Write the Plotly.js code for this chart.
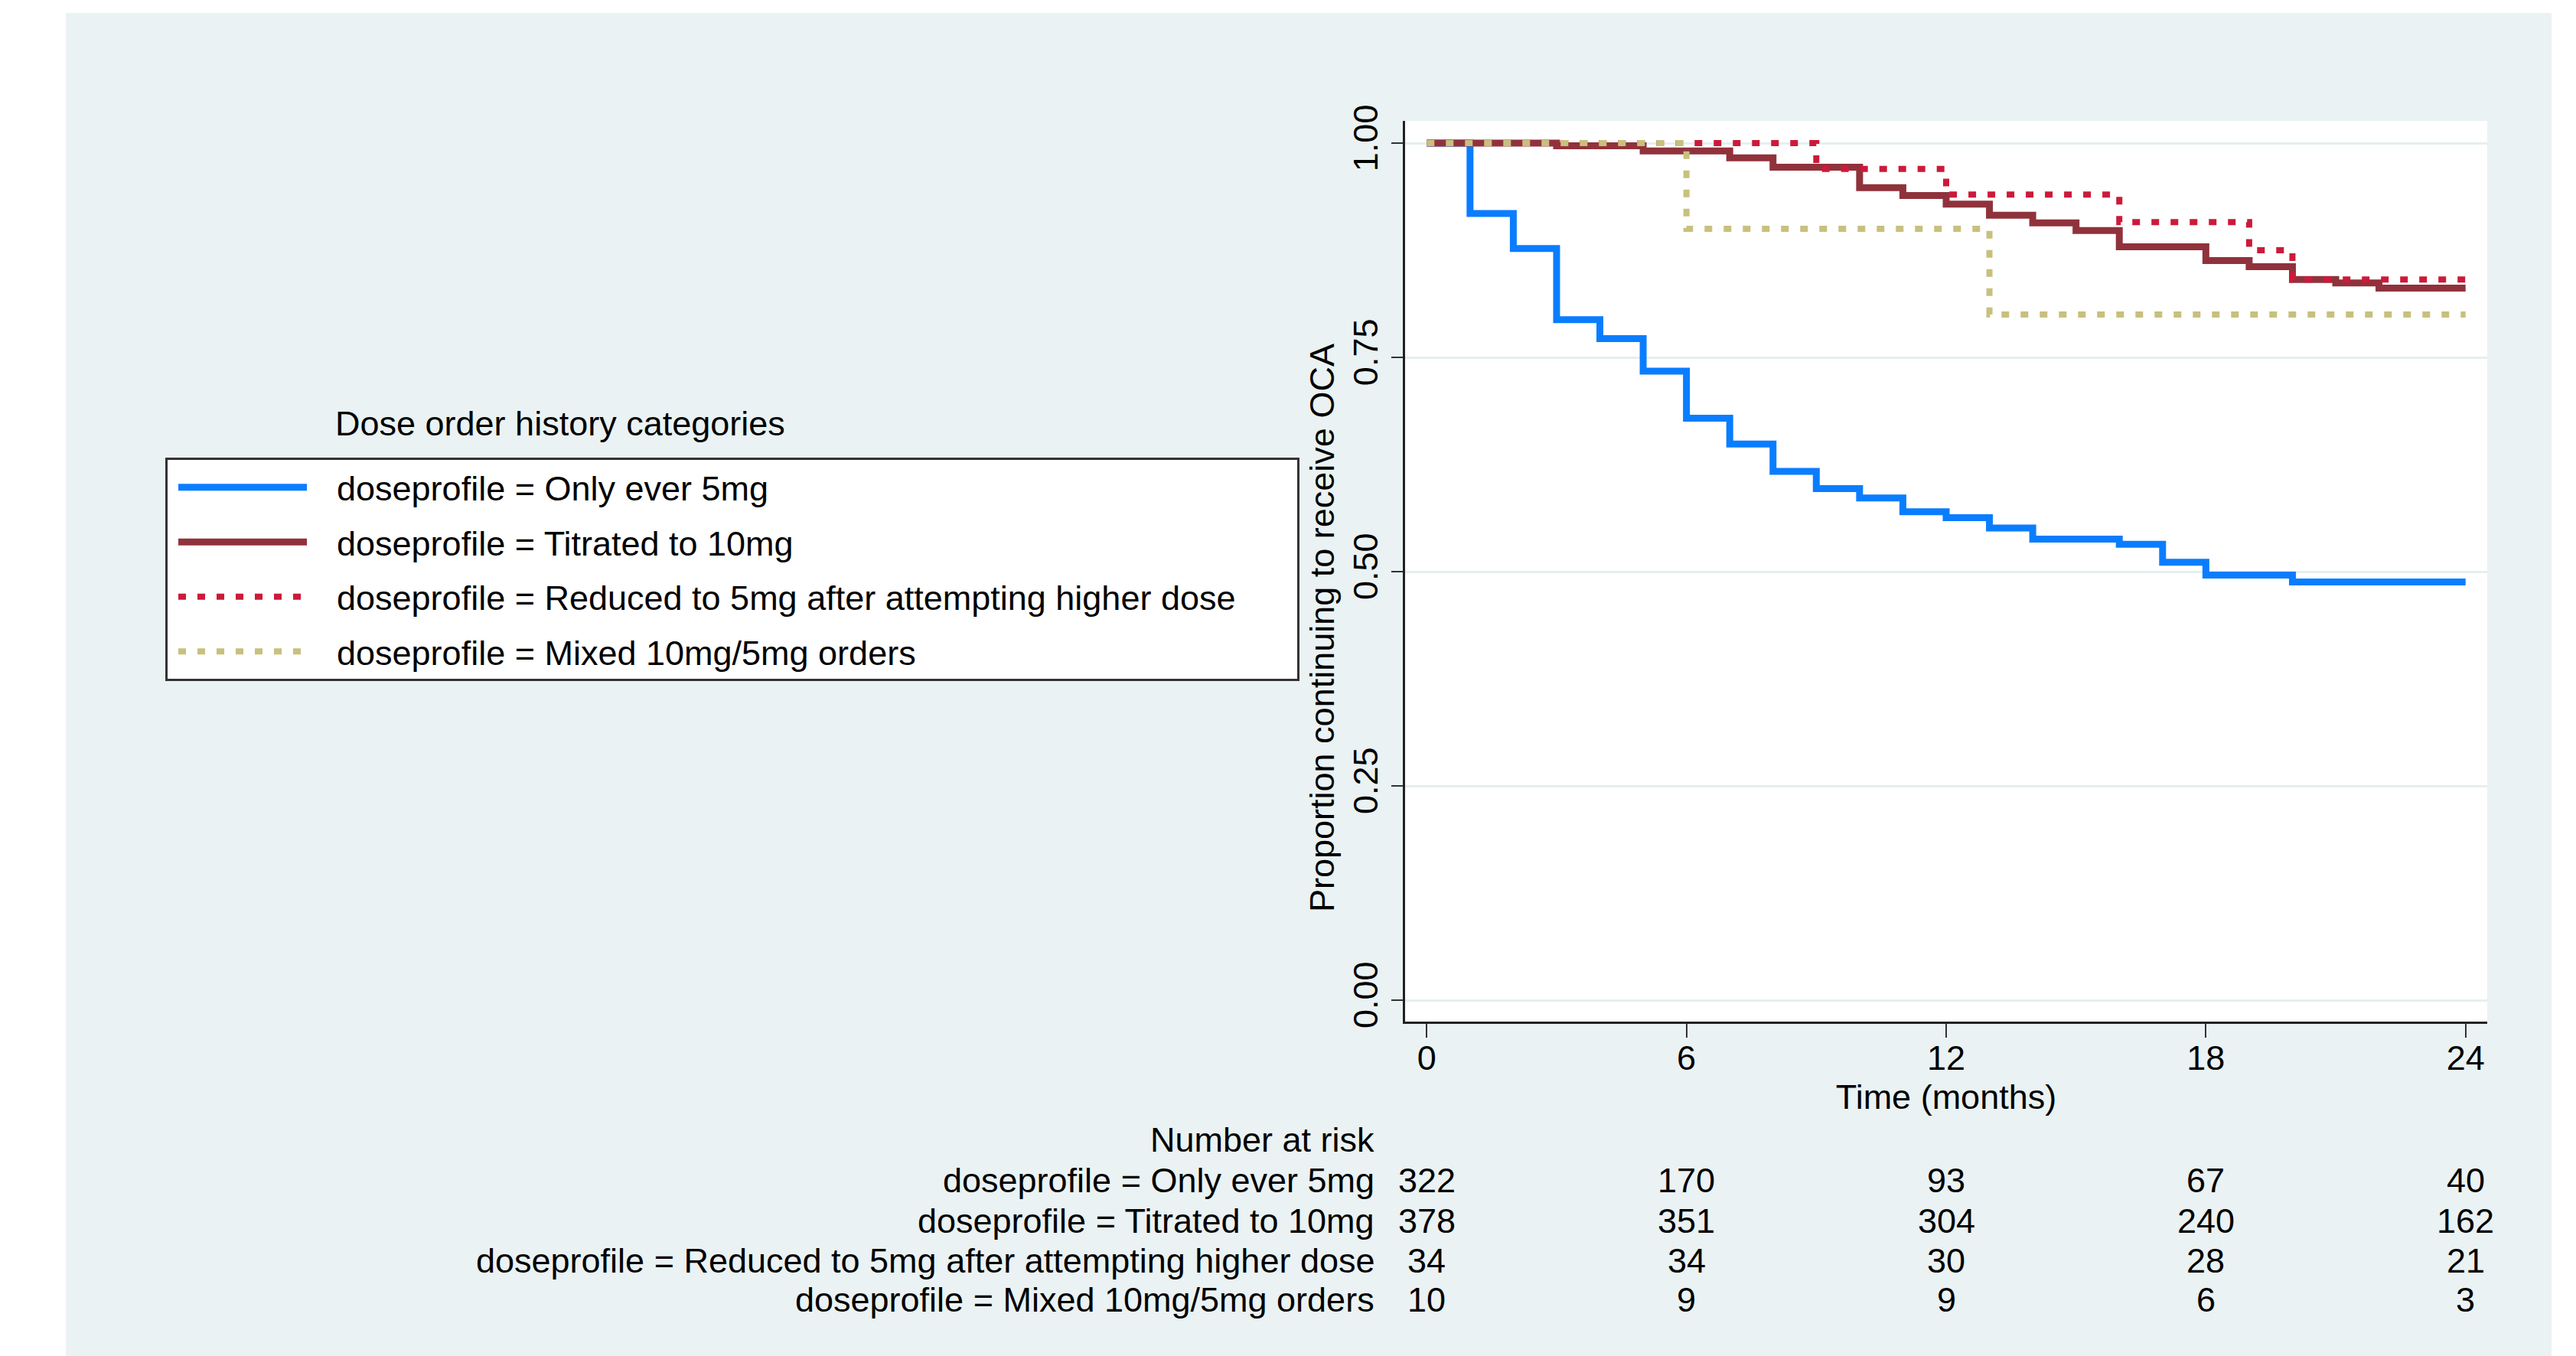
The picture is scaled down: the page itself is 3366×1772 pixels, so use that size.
<!DOCTYPE html>
<html>
<head>
<meta charset="utf-8">
<script src="https://cdn.plot.ly/plotly-3.0.1.min.js"></script>
<style>
  html, body { margin: 0; padding: 0; background: #ffffff; }
  #chart { position: absolute; left: 86px; top: 17px; width: 3248px; height: 1755px; }
</style>
</head>
<body>
<div id="chart"></div>
<script>
// ---- Data (Kaplan-Meier step curves) ----
const seriesNames = [
  "doseprofile = Only ever 5mg",
  "doseprofile = Titrated to 10mg",
  "doseprofile = Reduced to 5mg after attempting higher dose",
  "doseprofile = Mixed 10mg/5mg orders"
];

const only5Time = [0, 1, 2, 3, 4, 5, 6, 7, 8, 9, 10, 11, 12, 13, 14, 16, 17, 18, 20, 24];
const only5Surv = [1.000, 0.918, 0.877, 0.794, 0.772, 0.734, 0.679, 0.649, 0.617, 0.597, 0.586, 0.570, 0.563, 0.551, 0.538, 0.532, 0.511, 0.496, 0.488, 0.488];

const titratedTime = [0, 3, 5, 7, 8, 10, 11, 12, 13, 14, 15, 16, 18, 19, 20, 21, 22, 24];
const titratedSurv = [1.000, 0.997, 0.991, 0.983, 0.972, 0.948, 0.939, 0.929, 0.916, 0.907, 0.898, 0.879, 0.863, 0.856, 0.841, 0.837, 0.831, 0.831];

const reducedTime = [0, 9, 12, 16, 19, 20, 24];
const reducedSurv = [1.000, 0.970, 0.940, 0.908, 0.875, 0.841, 0.841];

const mixedTime = [0, 6, 13, 24];
const mixedSurv = [1.000, 0.900, 0.800, 0.800];

// ---- Number at risk table ----
const riskTimes = [0, 6, 12, 18, 24];
const riskOnly5 = [322, 170, 93, 67, 40];
const riskTitrated = [378, 351, 304, 240, 162];
const riskReduced = [34, 34, 30, 28, 21];
const riskMixed = [10, 9, 9, 6, 3];

// ---- Axis ticks ----
const xTicks = [0, 6, 12, 18, 24];
const yTicks = [0, 0.25, 0.5, 0.75, 1.0];
const yTickText = ["0.00", "0.25", "0.50", "0.75", "1.00"];

const FONT = "Liberation Sans, Arial, Helvetica, sans-serif";
const colors = ["#0a7dff", "#90323c", "#cc1a3a", "#c8c07d"];

// small spacing so legend labels sit a little right of their line keys
const LEAD = "\u00a0\u00a0\u2009";
const TRAIL = "\u00a0\u00a0\u00a0\u00a0\u00a0\u00a0";

const traces = [
  {x: only5Time, y: only5Surv, name: LEAD + seriesNames[0], line: {color: colors[0], width: 9, shape: "hv"}},
  {x: titratedTime, y: titratedSurv, name: LEAD + seriesNames[1], line: {color: colors[1], width: 9, shape: "hv"}},
  {x: reducedTime, y: reducedSurv, name: LEAD + seriesNames[2] + TRAIL, line: {color: colors[2], width: 8, shape: "hv", dash: "10px,15px"}},
  {x: mixedTime, y: mixedSurv, name: LEAD + seriesNames[3], line: {color: colors[3], width: 8, shape: "hv", dash: "10px,15px"}}
].map((t, i) => Object.assign({type: "scatter", mode: "lines", legendgroup: "g" + i, hoverinfo: "skip"}, t));

// plot area in page coordinates: x 1836..3250, y 158..1335
const px = X => (X - 1836) / 1414;
const py = Y => (1335 - Y) / 1177;

const annotations = [];
annotations.push({text: "Proportion continuing to receive OCA", xref: "paper", yref: "paper",
  x: px(1728), y: py(821), xanchor: "center", yanchor: "middle", textangle: -90, showarrow: false,
  font: {family: FONT, size: 45, color: "#000"}});
annotations.push({text: "Dose order history categories", xref: "paper", yref: "paper",
  x: px(436), y: py(553), xanchor: "left", yanchor: "middle", showarrow: false,
  font: {family: FONT, size: 45, color: "#000"}});
annotations.push({text: "Number at risk", xref: "paper", yref: "paper",
  x: px(1798), y: py(1489), xanchor: "right", yanchor: "middle", showarrow: false,
  font: {family: FONT, size: 45, color: "#000"}});

const riskRows = [riskOnly5, riskTitrated, riskReduced, riskMixed];
const rowY = [1542, 1595, 1647, 1698];
riskRows.forEach((row, r) => {
  annotations.push({text: seriesNames[r], xref: "paper", yref: "paper",
    x: px(1798), y: py(rowY[r]), xanchor: "right", yanchor: "middle", showarrow: false,
    font: {family: FONT, size: 45, color: "#000"}});
  row.forEach((v, i) => {
    annotations.push({text: String(v), xref: "x", yref: "paper",
      x: riskTimes[i], y: py(rowY[r]), xanchor: "center", yanchor: "middle", showarrow: false,
      font: {family: FONT, size: 45, color: "#000"}});
  });
});

const layout = {
  width: 3248, height: 1755,
  paper_bgcolor: "#eaf2f3",
  plot_bgcolor: "#ffffff",
  margin: {l: 1750, r: 84, t: 141, b: 437, autoexpand: false},
  font: {family: FONT, size: 45, color: "#000"},
  showlegend: true,
  legend: {
    x: px(216), y: py(598), xanchor: "left", yanchor: "top",
    bgcolor: "#ffffff", bordercolor: "#333333", borderwidth: 3,
    font: {family: FONT, size: 45, color: "#000"},
    traceorder: "grouped", tracegroupgap: 10, itemwidth: 168, indentation: 9
  },
  xaxis: {
    range: [-0.5, 24.5], tickmode: "array", tickvals: xTicks, ticktext: xTicks.map(String),
    ticks: "outside", ticklen: 18, tickwidth: 2, tickcolor: "#333", ticklabelstandoff: -12,
    showline: true, linewidth: 3, linecolor: "#222", mirror: false,
    showgrid: false, zeroline: false,
    tickfont: {family: FONT, size: 45, color: "#000"},
    title: {text: "Time (months)", font: {family: FONT, size: 45, color: "#000"}, standoff: 10}
  },
  yaxis: {
    range: [-0.025, 1.026], tickmode: "array", tickvals: yTicks, ticktext: yTickText,
    ticks: "outside", ticklen: 15, tickwidth: 2, tickcolor: "#333", tickangle: -90,
    showline: true, linewidth: 3, linecolor: "#222",
    showgrid: true, gridcolor: "#e6eff1", gridwidth: 3, zeroline: false,
    tickfont: {family: FONT, size: 45, color: "#000"}
  },
  annotations: annotations
};

Plotly.newPlot("chart", traces, layout, {staticPlot: true, displayModeBar: false});
</script>
</body>
</html>
